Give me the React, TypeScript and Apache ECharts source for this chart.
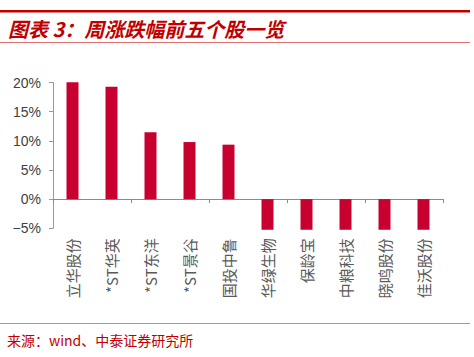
import React, { useEffect, useRef } from "react";
import * as echarts from "echarts";

const categories = ["立华股份", "*ST华英", "*ST东洋", "*ST景谷", "国投中鲁", "华绿生物", "保龄宝", "中粮科技", "晓鸣股份", "佳沃股份"];
const changes = [20.05, 19.3, 11.5, 9.8, 9.35, -5.25, -5.25, -5.25, -5.25, -5.25];
const yTicks = { min: -5, max: 20, interval: 5 };
const titleText = "图表 3：周涨跌幅前五个股一览";
const sourceText = "来源：wind、中泰证券研究所";

export default function App() {
  const ref = useRef<HTMLDivElement>(null);
  useEffect(() => {
    document.body.style.margin = "0";
    const chart = echarts.init(ref.current!, null, { renderer: "svg" });
    const red = "#c00000";
    chart.setOption({
      animation: false,
      backgroundColor: "#ffffff",
      grid: { left: 53, right: 31, top: 82.6, bottom: 128.7, containLabel: false },
      xAxis: [
        {
          type: "category",
          data: categories,
          position: "bottom",
          axisLine: { show: false, onZero: false },
          axisTick: { show: false },
          axisLabel: {
            rotate: 90,
            margin: 10,
            fontSize: 15,
            color: "#5a5a5a",
            fontFamily: "Noto Sans CJK SC",
            interval: 0,
          },
        },
        {
          type: "category",
          data: categories,
          position: "bottom",
          axisLine: { show: true, onZero: true, lineStyle: { color: "#8c8c8c", width: 1 } },
          axisTick: { show: true, length: 4, lineStyle: { color: "#8c8c8c" } },
          axisLabel: { show: false },
        },
      ],
      yAxis: {
        type: "value",
        min: yTicks.min,
        max: yTicks.max,
        interval: yTicks.interval,
        axisLine: { show: true, lineStyle: { color: "#9a9a9a" } },
        axisTick: { show: true, length: 4, lineStyle: { color: "#9a9a9a" } },
        splitLine: { show: false },
        axisLabel: {
          margin: 12,
          fontSize: 14,
          color: "#404040",
          fontFamily: "Liberation Sans, Arial, sans-serif",
          formatter: (v: number) => (v < 0 ? "\u2212" + Math.abs(v) : String(v)) + "%",
        },
      },
      series: [
        {
          type: "bar",
          xAxisIndex: 0,
          data: changes,
          barWidth: 12,
          clip: false,
          itemStyle: { color: "#c8002f" },
        },
      ],
      graphic: [
        { type: "rect", shape: { x: 0, y: 10, width: 470, height: 2.5 }, style: { fill: red } },
        {
          type: "text",
          x: 8,
          y: 28,
          style: {
            text: titleText,
            font: "italic bold 20px 'Noto Sans CJK SC'",
            fill: red,
            textVerticalAlign: "middle",
          },
        },
        { type: "rect", shape: { x: 0, y: 42, width: 470, height: 1 }, style: { fill: "#e07070" } },
        { type: "rect", shape: { x: 0, y: 323, width: 470, height: 1 }, style: { fill: "#e08080" } },
        {
          type: "text",
          x: 7,
          y: 340,
          style: {
            text: sourceText,
            font: "14px 'Noto Sans CJK SC'",
            fill: red,
            textVerticalAlign: "middle",
          },
        },
      ],
    });
    return () => chart.dispose();
  }, []);
  return <div ref={ref} style={{ width: 474, height: 357 }} />;
}
